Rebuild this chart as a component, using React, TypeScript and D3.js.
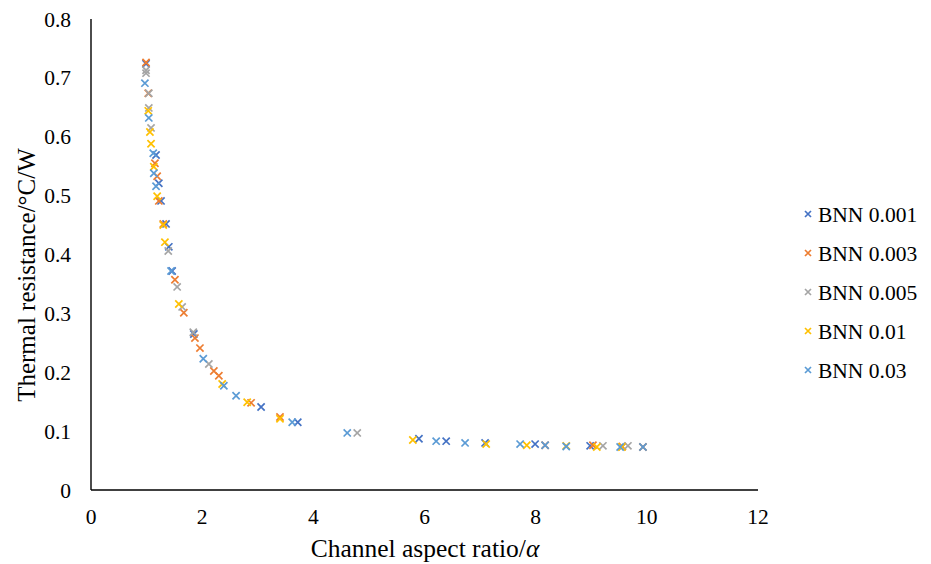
import React from 'react';
import * as d3 from 'd3';

type Pt = [number, number];

const seriesNames = ['BNN 0.001', 'BNN 0.003', 'BNN 0.005', 'BNN 0.01', 'BNN 0.03'];
const seriesColors = ['#4472C4', '#ED7D31', '#A5A5A5', '#FFC000', '#5B9BD5'];

const bnn0001: Pt[] = [
  [0.99, 0.724], [1.17, 0.569], [1.22, 0.521], [1.26, 0.491], [1.35, 0.452], [1.4, 0.413],
  [1.46, 0.372], [1.85, 0.265], [3.06, 0.141], [3.72, 0.115], [5.9, 0.087], [6.39, 0.083],
  [7.09, 0.08], [7.99, 0.078], [8.98, 0.075],
];
const bnn0003: Pt[] = [
  [0.99, 0.726], [1.03, 0.674], [1.15, 0.555], [1.19, 0.533], [1.22, 0.491], [1.3, 0.452],
  [1.51, 0.357], [1.67, 0.301], [1.87, 0.258], [1.96, 0.241], [2.21, 0.202], [2.3, 0.194],
  [2.88, 0.148], [3.4, 0.124], [8.17, 0.076], [9.03, 0.076], [9.56, 0.074], [9.93, 0.073],
];
const bnn0005: Pt[] = [
  [0.99, 0.713], [0.99, 0.708], [1.04, 0.674], [1.04, 0.649], [1.08, 0.615], [1.39, 0.406],
  [1.55, 0.345], [1.64, 0.311], [1.84, 0.268], [2.12, 0.214], [4.79, 0.097], [9.21, 0.075],
  [9.66, 0.075],
];
const bnn001: Pt[] = [
  [1.03, 0.644], [1.06, 0.608], [1.08, 0.588], [1.13, 0.549], [1.19, 0.499], [1.3, 0.45],
  [1.33, 0.421], [1.58, 0.316], [2.36, 0.18], [2.81, 0.149], [3.4, 0.121], [5.79, 0.085],
  [7.11, 0.078], [7.84, 0.076], [8.55, 0.075], [9.1, 0.073], [9.55, 0.073],
];
const bnn003: Pt[] = [
  [0.97, 0.691], [1.04, 0.632], [1.12, 0.572], [1.13, 0.538], [1.17, 0.516], [1.44, 0.372],
  [2.02, 0.223], [2.39, 0.177], [2.61, 0.16], [3.62, 0.115], [4.61, 0.097], [6.21, 0.083],
  [6.73, 0.08], [7.72, 0.078], [8.17, 0.076], [8.55, 0.074], [9.52, 0.073], [9.93, 0.073],
];

const allSeries = [bnn0001, bnn0003, bnn0005, bnn001, bnn003];

const xTicks = [0, 2, 4, 6, 8, 10, 12];
const yTicks = [0, 0.1, 0.2, 0.3, 0.4, 0.5, 0.6, 0.7, 0.8];

const W = 931;
const H = 564;
const font = '"Liberation Serif", "Times New Roman", serif';

const Cross = ({ cx, cy, color, r = 3.6 }: { cx: number; cy: number; color: string; r?: number }) => (
  <path
    d={`M${cx - r},${cy - r}L${cx + r},${cy + r}M${cx - r},${cy + r}L${cx + r},${cy - r}`}
    stroke={color}
    strokeWidth={1.7}
    fill="none"
  />
);

export default function App() {
  const x = d3.scaleLinear().domain([0, 12]).range([91, 758]);
  const y = d3.scaleLinear().domain([0, 0.8]).range([490, 19]);

  return (
    <svg width={W} height={H} style={{ position: 'absolute', left: 0, top: 0, background: '#fff' }}>
      <rect width={W} height={H} fill="#fff" />
      {/* axes */}
      <line x1={x(0)} x2={x(0)} y1={y(0.8)} y2={y(0)} stroke="#000" strokeWidth={1.4} />
      <line x1={x(0)} x2={x(12)} y1={y(0)} y2={y(0)} stroke="#000" strokeWidth={1.4} />

      {yTicks.map(t => (
        <text key={t} x={71} y={y(t)} dy="0.35em" textAnchor="end" fontFamily={font} fontSize={21.5} fill="#000">
          {t === 0 ? '0' : t.toFixed(1)}
        </text>
      ))}
      {xTicks.map(t => (
        <text key={t} x={x(t)} y={524} textAnchor="middle" fontFamily={font} fontSize={21.5} fill="#000">
          {t}
        </text>
      ))}

      <text x={425} y={557} textAnchor="middle" fontFamily={font} fontSize={25.5} fill="#000">
        Channel aspect ratio/<tspan fontStyle="italic">α</tspan>
      </text>
      <text
        transform={`translate(35,${275}) rotate(-90)`}
        textAnchor="middle"
        fontFamily={font}
        fontSize={25}
        fill="#000"
      >
        Thermal resistance/°C/W
      </text>

      {allSeries.map((s, i) => (
        <g key={seriesNames[i]}>
          {s.map((d, j) => (
            <Cross key={j} cx={x(d[0])} cy={y(d[1])} color={seriesColors[i]} />
          ))}
        </g>
      ))}

      {seriesNames.map((n, i) => {
        const ly = 214 + i * 39;
        return (
          <g key={n}>
            <Cross cx={808} cy={ly} color={seriesColors[i]} r={3} />
            <text x={818} y={ly} dy="0.35em" fontFamily={font} fontSize={21.5} fill="#000">
              {n}
            </text>
          </g>
        );
      })}
    </svg>
  );
}
